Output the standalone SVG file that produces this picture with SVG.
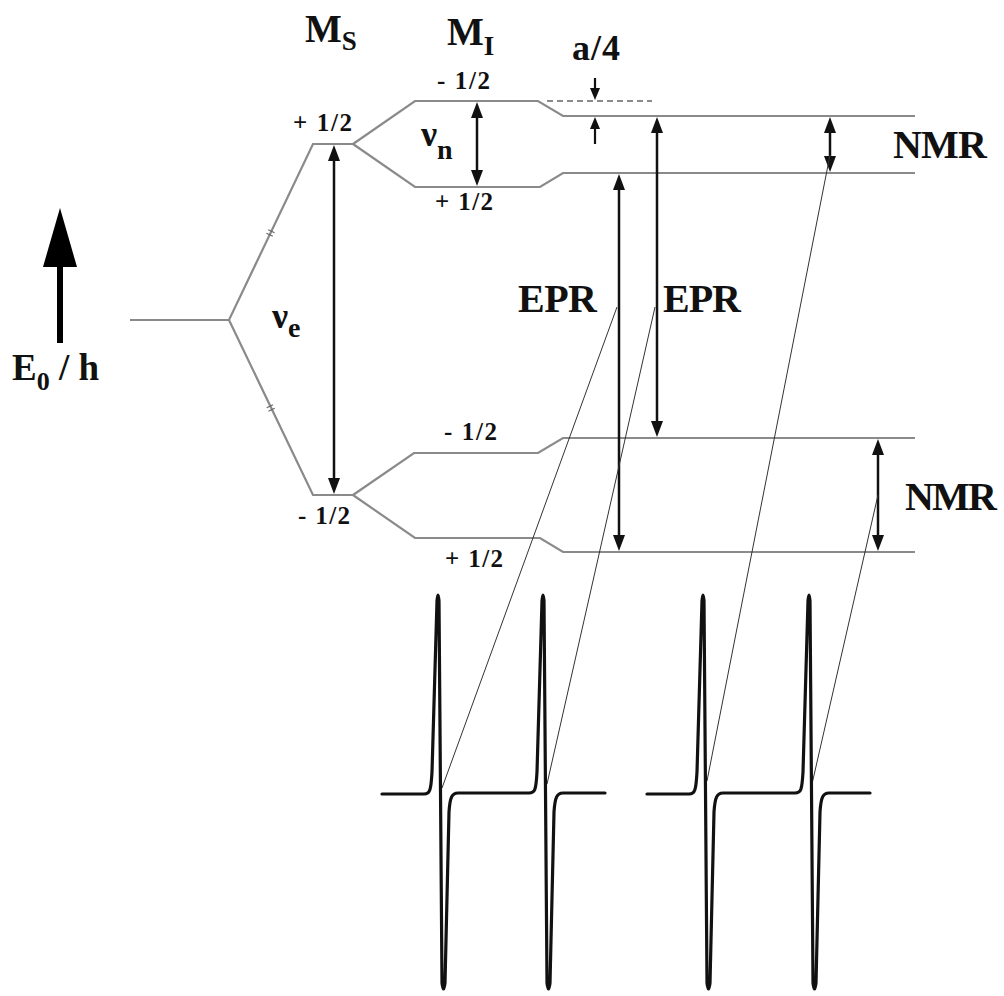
<svg xmlns="http://www.w3.org/2000/svg" width="1004" height="996" viewBox="0 0 1004 996">
<style>
text{font-family:"Liberation Serif","Times New Roman",serif;font-weight:bold;fill:#111}
.lvl{fill:none;stroke:#8a8a8a;stroke-width:2.2;stroke-linejoin:miter}
.dash{fill:none;stroke:#8a8a8a;stroke-width:1.8;stroke-dasharray:6 4}
.tick{stroke:#666;stroke-width:1.2}
.arr{stroke:#111;stroke-width:2.5;marker-start:url(#ah);marker-end:url(#ah)}
.arrs{stroke:#111;stroke-width:2.2;marker-end:url(#ahs)}
.con{stroke:#333;stroke-width:1;fill:none}
.spec{fill:none;stroke:#111;stroke-width:3.2;stroke-linejoin:round;stroke-linecap:round}
.lab{font-size:25px}
.big{font-size:40px}
</style>
<defs>
<marker id="ah" viewBox="0 0 16 12" refX="8" refY="6" markerWidth="16" markerHeight="12" markerUnits="userSpaceOnUse" orient="auto-start-reverse">
<path d="M0,0 L16,6 L0,12 z" fill="#111"/>
</marker>
<marker id="ahs" viewBox="0 0 12 10" refX="6" refY="5" markerWidth="12" markerHeight="10" markerUnits="userSpaceOnUse" orient="auto">
<path d="M0,0 L12,5 L0,10 z" fill="#111"/>
</marker>
</defs>
<rect width="1004" height="996" fill="#fff"/>

<g id="energy-levels">
<path class="lvl" d="M130 320 H229 L313 144 H353"/>
<path class="lvl" d="M229 320 L313 495 H353"/>
<path class="lvl" d="M353 144 L415 101 H538 L563 116 H915"/>
<path class="lvl" d="M353 144 L415 187 H540 L563 173 H915"/>
<path class="lvl" d="M353 495 L414 453 H538 L563 438 H915"/>
<path class="lvl" d="M353 495 L415 538 H540 L563 552 H915"/>
<path class="dash" d="M547 101 H652"/>
<path class="tick" d="M266.4 233.3 L272.8 236.3 M268.2 229.7 L274.6 232.7"/>
<path class="tick" d="M266.7 407.7 L273 404.7 M268.4 411.3 L274.7 408.3"/>
</g>

<g id="energy-axis">
<line x1="60" y1="343" x2="60" y2="262" stroke="#000" stroke-width="6"/>
<polygon points="60,208 43,267 77,267" fill="#000"/>
<text x="12" y="380" font-size="37">E<tspan font-size="26" dy="10">0</tspan><tspan dy="-10" xml:space="preserve"> / h</tspan></text>
</g>

<g id="labels">
<text x="305" y="42" font-size="39">M<tspan font-size="27" dy="8">S</tspan></text>
<text x="447" y="45" font-size="39">M<tspan font-size="27" dy="10">I</tspan></text>
<text x="572" y="60" font-size="36" textLength="48">a/4</text>
<text class="lab" x="293" y="131" textLength="59">+ 1/2</text>
<text class="lab" x="437" y="89" textLength="53">- 1/2</text>
<text class="lab" x="435" y="210" textLength="58">+ 1/2</text>
<text class="lab" x="444" y="440" textLength="53">- 1/2</text>
<text class="lab" x="298" y="524" textLength="52">- 1/2</text>
<text class="lab" x="445" y="567" textLength="58">+ 1/2</text>
<text x="272" y="328" font-size="36" font-weight="normal">ν<tspan font-size="28" font-weight="bold" dy="9">e</tspan></text>
<text x="421" y="146" font-size="36" font-weight="normal">ν<tspan font-size="28" font-weight="bold" dy="13">n</tspan></text>
<text class="big" x="518" y="312" textLength="79">EPR</text>
<text class="big" x="663" y="312" textLength="78">EPR</text>
<text class="big" x="893" y="158" textLength="94">NMR</text>
<text class="big" x="905" y="510" textLength="92">NMR</text>
</g>

<g id="transitions">
<line class="arr" x1="334" y1="153" x2="334" y2="486"/>
<line class="arr" x1="477" y1="110" x2="477" y2="178"/>
<line class="arr" x1="619" y1="182" x2="619" y2="543"/>
<line class="arr" x1="657" y1="125" x2="657" y2="429"/>
<line class="arr" x1="830" y1="125" x2="830" y2="164"/>
<line class="arr" x1="878" y1="447" x2="878" y2="543"/>
<line class="arrs" x1="595" y1="78" x2="595" y2="94"/>
<line class="arrs" x1="595" y1="144" x2="595" y2="123"/>
</g>

<g id="connectors">
<line class="con" x1="442" y1="788" x2="617" y2="307"/>
<line class="con" x1="547" y1="784" x2="655" y2="307"/>
<line class="con" x1="707" y1="781" x2="830" y2="155"/>
<line class="con" x1="812" y1="784" x2="878" y2="495"/>
</g>

<g id="spectrum">
<path class="spec" d="M382 794 H424 C430 794 431 790 432 772 L437 601 Q438 589 439 601 L442 983 Q443.5 995 445 983 L449 812 C450 797 452 793 458 793 H529 C535 793 536 790 537 772 L542 601 Q543 589 544 601 L547 983 Q548.5 995 550 983 L554 812 C555 797 557 793 563 793 H605"/>
<path class="spec" d="M647 794 H689 C695 794 696 790 697 772 L702 601 Q703 589 704 601 L707 983 Q708.5 995 710 983 L714 812 C715 797 717 793 723 793 H795 C801 793 802 790 803 772 L808 601 Q809 589 810 601 L813 983 Q814.5 995 816 983 L820 812 C821 797 823 793 829 793 H870"/>
</g>
</svg>
